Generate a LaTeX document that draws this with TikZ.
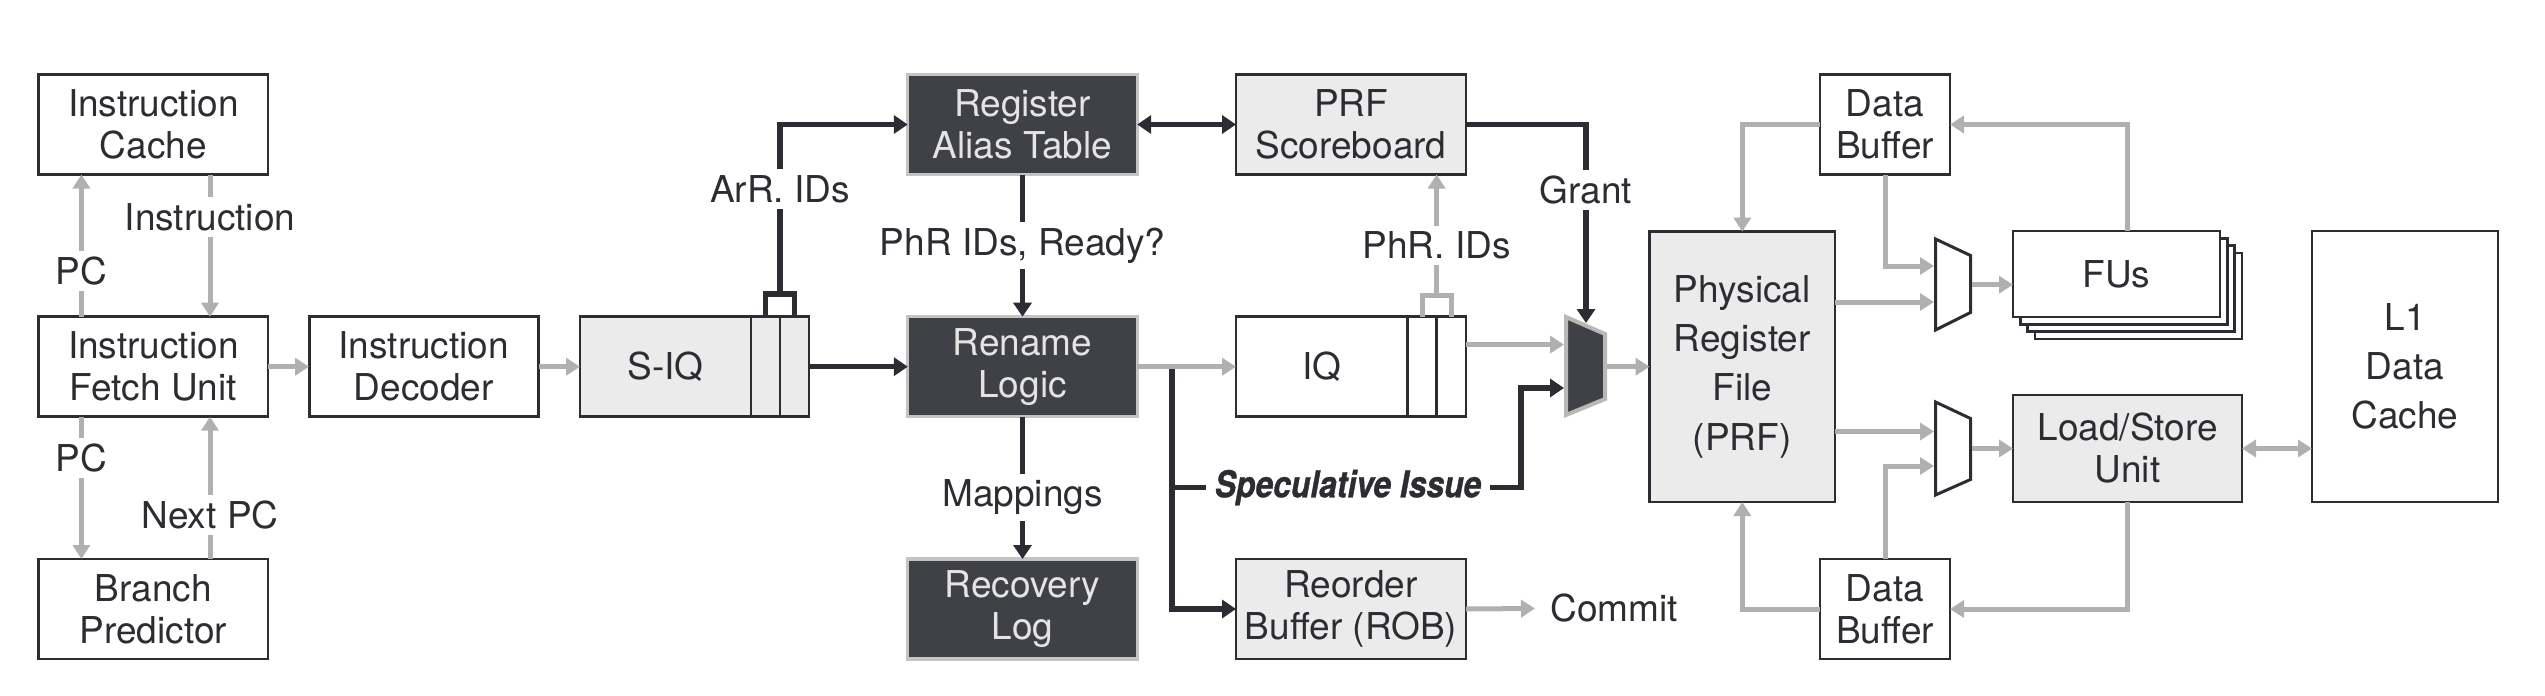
\documentclass[tikz,border=0pt]{standalone}
\usepackage{fontspec}
\setmainfont{TeX Gyre Heros}
\newfontfamily\specfont{TeX Gyre Heros}[FakeStretch=0.86,FakeBold=0.8]
\usetikzlibrary{arrows.meta,calc}
\definecolor{darkfill}{HTML}{404147}
\definecolor{darkedge}{HTML}{C4C4C4}
\definecolor{lightfill}{HTML}{EBEBEB}
\definecolor{ink}{HTML}{2C2D32}
\definecolor{wire}{HTML}{B0B0B0}
\definecolor{paletext}{HTML}{E4E4E4}
\definecolor{muxedge}{HTML}{B8B8B8}
\begin{document}
\begin{tikzpicture}[x=0.5pt,y=-0.5pt,
 every node/.style={font=\fontsize{18.5}{21}\selectfont, text=ink},
 box/.style={draw=ink,line width=1.4pt,fill=white,inner sep=0pt,outer sep=0pt,align=center,minimum width=114.7pt,minimum height=50pt},
 lightbox/.style={box,fill=lightfill},
 darkbox/.style={box,draw=darkedge,line width=1.6pt,fill=darkfill,text=paletext},
 tallbox/.style={font=\fontsize{18.5}{24.6}\selectfont},
 gwire/.style={draw=wire,line width=2.5pt},
 garrow/.style={gwire,-{Triangle[length=7pt,width=8.5pt]}},
 gdouble/.style={gwire,{Triangle[length=7pt,width=8.5pt]}-{Triangle[length=7pt,width=8.5pt]}},
 bwire/.style={draw=ink,line width=2.7pt},
 barrow/.style={bwire,-{Triangle[length=7pt,width=9pt]}},
 bdouble/.style={bwire,{Triangle[length=7pt,width=9pt]}-{Triangle[length=7pt,width=9pt]}},
 lbl/.style={fill=white,inner xsep=2pt,inner ysep=3pt},
 divider/.style={draw=ink,line width=1.4pt},
 muxbox/.style={draw=ink,line width=1.5pt,fill=white},
]
\fill[white] (0,0) rectangle (2545,696);

% ---------- boxes ----------
\node[box] (icache) at (153.3,124.5) {Instruction\\Cache};
\node[box] (fetch) at (153.3,366.7) {Instruction\\Fetch Unit};
\node[box] (bp) at (153.3,609) {Branch\\Predictor};
\node[box] (dec) at (423.8,366.7) {Instruction\\Decoder};

\node[lightbox,minimum width=114.5pt] (siq) at (694.5,366.7) {};
\node (siqt) at (665.5,366.7) {S-IQ};
\draw[divider] ($(siq.north east)+(-58,0)$) -- ($(siq.south east)+(-58,0)$);
\draw[divider] ($(siq.north east)+(-29,0)$) -- ($(siq.south east)+(-29,0)$);

\node[darkbox] (rat) at (1022.5,124.5) {Register\\Alias Table};
\node[darkbox] (ren) at (1022.5,366.7) {Rename\\Logic};
\node[darkbox] (rec) at (1022.5,609) {Recovery\\Log};

\node[lightbox,minimum width=115pt] (sb) at (1351,124.5) {PRF\\Scoreboard};
\node[box,minimum width=115pt] (iq) at (1351,366.7) {};
\node (iqt) at (1321.8,366.7) {IQ};
\draw[divider] ($(iq.north east)+(-58.4,0)$) -- ($(iq.south east)+(-58.4,0)$);
\draw[divider] ($(iq.north east)+(-29.4,0)$) -- ($(iq.south east)+(-29.4,0)$);
\node[lightbox,minimum width=115pt] (rob) at (1351,609) {Reorder\\Buffer (ROB)};

\node[lightbox,tallbox,minimum width=92.75pt,minimum height=135.2pt] (prf) at (1742.3,366.8) {Physical\\Register\\File\\(PRF)};
\node[box,minimum width=65pt] (dbt) at (1885,124.5) {Data\\Buffer};
\node[box,minimum width=65pt] (dbb) at (1885,609) {Data\\Buffer};

\node[box,minimum width=103.5pt,minimum height=43pt] (fusC) at (2138.5,296) {};
\node[box,minimum width=103.5pt,minimum height=43pt] (fusB) at (2131.2,288.7) {};
\node[box,minimum width=103.5pt,minimum height=43pt] (fusA) at (2123.8,281.3) {};
\node[box,minimum width=103.5pt,minimum height=43pt] (fus) at (2116.5,274) {FUs};

\node[lightbox,minimum width=114.5pt,minimum height=53.5pt] (lsu) at (2127.5,448.5) {Load/Store\\Unit};
\node[box,tallbox,minimum width=93pt,minimum height=135.5pt] (l1) at (2405,366.5) {L1\\Data\\Cache};

% ---------- multiplexers ----------
\filldraw[fill=darkfill,draw=muxedge,line width=2pt] (1566,317) -- (1605,334) -- (1605,399) -- (1566,415) -- cycle;
\coordinate (gin1) at (1564,344.6);
\coordinate (gin2) at (1564,388);
\coordinate (gout) at (1607,366.7);
\coordinate (gtop) at (1586,323);

\draw[muxbox] (1935.5,239) -- (1970.5,255.5) -- (1970.5,312.5) -- (1935.5,330) -- cycle;
\coordinate (m1in1) at (1934,266);
\coordinate (m1in2) at (1934,302);
\coordinate (m1out) at (1972,284.7);

\draw[muxbox] (1935.5,402) -- (1970.5,418.5) -- (1970.5,479.5) -- (1935.5,495) -- cycle;
\coordinate (m2in1) at (1934,431.5);
\coordinate (m2in2) at (1934,466);
\coordinate (m2out) at (1972,448.5);

% ---------- front end (gray) ----------
\coordinate (pcx) at (81.4,0);
\coordinate (insx) at (210,0);
\draw[garrow] (fetch.north -| pcx) -- node[lbl,pos=0.32]{PC} (icache.south -| pcx);
\draw[garrow] (icache.south -| insx) -- node[lbl,pos=0.3]{Instruction} (fetch.north -| insx);
\draw[garrow] (fetch.south -| pcx) -- node[lbl,pos=0.29]{PC} (bp.north -| pcx);
\draw[garrow] (bp.north -| insx) -- node[lbl,pos=0.31]{Next PC} (fetch.south -| insx);
\draw[garrow] (fetch.east) -- (dec.west);
\draw[garrow] (dec.east) -- (siq.west);

% ---------- rename stage (black) ----------
\coordinate (sbr1) at (765.5,316.7);
\coordinate (sbr2) at (794.5,316.7);
\coordinate (sbtop) at (780,294);
\draw[bwire] (sbr1) |- (sbtop) -| (sbr2);
\draw[barrow] (sbtop) -- node[lbl,pos=0.62]{ArR. IDs} (sbtop |- rat.west) -- (rat.west);
\draw[barrow] (siq.east) -- (ren.west);
\draw[barrow] (rat.south) -- node[lbl,pos=0.5]{PhR IDs, Ready?} (ren.north);
\draw[barrow] (ren.south) -- node[lbl,pos=0.565]{Mappings} (rec.north);
\draw[bdouble] (rat.east) -- (sb.west);

\coordinate (busx) at (1172,368);
\draw[barrow] (busx) |- (rob.west);
\node[font=\specfont\bfseries\itshape\fontsize{18.5}{21}\selectfont,inner xsep=4pt,inner ysep=2pt] (spec) at (1348,487.6) {Speculative Issue};
\draw[bwire] (busx |- spec.west) -- (spec.west);
\coordinate (specx) at (1521,0);
\draw[barrow] (spec.east) -- (spec.east -| specx) |- (gin2);
\draw[garrow] (ren.east) -- (iq.west);

\draw[barrow] (sb.east) -- (sb.east -| gtop) -- node[lbl,pos=0.33]{Grant} (gtop);

% ---------- issue (gray) ----------
\coordinate (qbr1) at (1422,316.7);
\coordinate (qbr2) at (1451,316.7);
\coordinate (qbtop) at (1436.6,295);
\draw[gwire] (qbr1) |- (qbtop) -| (qbr2);
\draw[garrow] (qbtop) -- node[lbl,pos=0.41]{PhR. IDs} (qbtop |- sb.south);
\draw[garrow] (iq.east |- gin1) -- (gin1);
\draw[garrow] (gout) -- (gout -| prf.west);

\node[anchor=west,inner xsep=7.5pt,inner ysep=0pt] (commit) at (1535,608.5) {Commit};
\draw[garrow] (rob.east) -- (commit.west);

% ---------- execute (gray) ----------
\draw[garrow] (dbt.west) -| (prf.north);
\draw[garrow] (dbb.west) -| (prf.south);
\draw[garrow] (dbt.south) |- (m1in1);
\draw[garrow] (prf.east |- m1in2) -- (m1in2);
\draw[garrow] (prf.east |- m2in1) -- (m2in1);
\draw[garrow] (dbb.north) |- (m2in2);
\draw[garrow] (m1out) -- (m1out -| fus.west);
\draw[garrow] (m2out) -- (m2out -| lsu.west);
\draw[garrow] (fus.north -| lsu.north) |- (dbt.east);
\draw[garrow] (lsu.south) |- (dbb.east);
\draw[gdouble] (lsu.east) -- (lsu.east -| l1.west);
\end{tikzpicture}
\end{document}
